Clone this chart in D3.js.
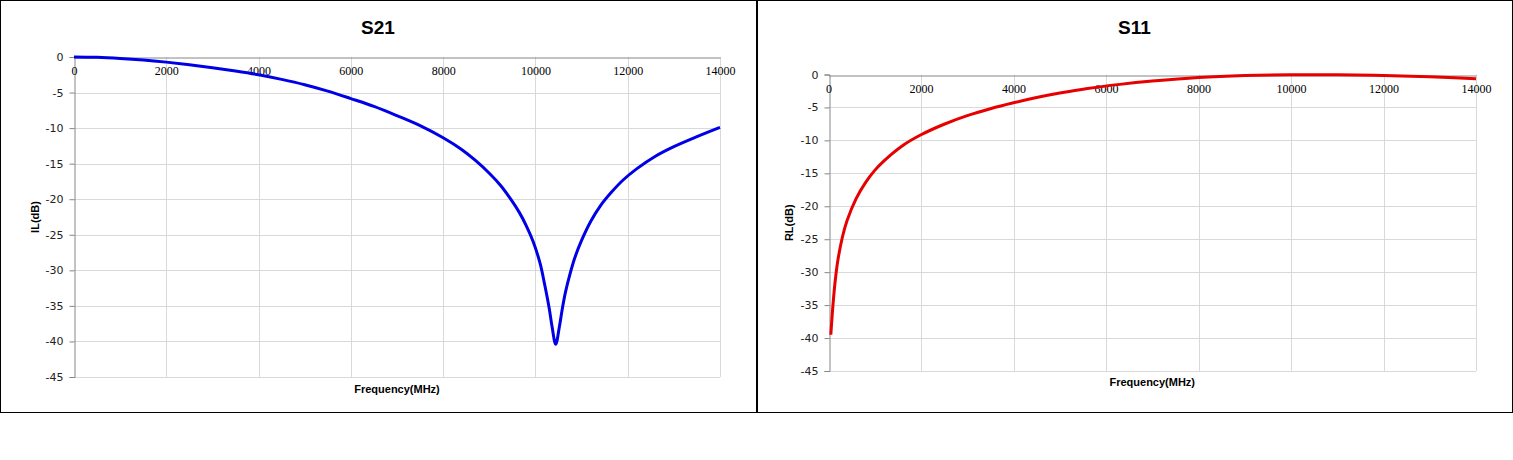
<!DOCTYPE html>
<html>
<head>
<meta charset="utf-8">
<script src="https://cdn.jsdelivr.net/npm/d3@7"></script>
<style>
  body { margin: 0; background: #fff; }
</style>
</head>
<body>
<div id="chart"></div>
<script>
// data (frequency in MHz, level in dB)
const s21Freq = [0, 500, 1000, 1500, 2000, 2500, 3000, 3500, 4000, 4500, 5000, 5500, 6000, 6500, 7000, 7500,
    8000, 8400, 8700, 9000, 9250, 9450, 9650, 9800, 9950, 10100, 10200, 10300, 10360, 10440, 10520, 10580,
    10650, 10750, 10850, 11000, 11200, 11400, 11650, 11900, 12200, 12600, 13000, 13500, 14000];
const s21Loss = [0, -0.05, -0.2, -0.42, -0.72, -1.08, -1.5, -1.97, -2.5, -3.15, -3.9, -4.8, -5.85, -6.95, -8.25, -9.65,
    -11.35, -13.0, -14.55, -16.35, -18.1, -19.85, -21.85, -23.7, -25.95, -29.0, -32.0, -35.4, -37.9, -40.4, -37.9, -35.5,
    -33.1, -30.5, -28.3, -25.8, -23.1, -21.0, -19.0, -17.3, -15.7, -13.95, -12.6, -11.2, -9.9];

const s11Freq = [50, 100, 150, 200, 300, 400, 600, 800, 1000, 1200, 1600, 2000, 2500, 3000, 3500, 4000,
    4500, 5000, 5600, 6300, 7000, 8000, 9000, 10000, 11000, 12000, 13000, 14000];
const s11Loss = [-39.5, -34.7, -31.0, -28.3, -24.7, -22.2, -18.8, -16.4, -14.55, -13.1, -10.8, -9.15, -7.55, -6.25,
    -5.2, -4.3, -3.5, -2.82, -2.12, -1.5, -1.0, -0.45, -0.15, -0.03, -0.05, -0.15, -0.35, -0.65];

const xTicks = [0, 2000, 4000, 6000, 8000, 10000, 12000, 14000];
const yTicks = [0, -5, -10, -15, -20, -25, -30, -35, -40, -45];

const W = 1513, H = 460;

const svg = d3.select("#chart")
    .append("svg")
    .attr("width", W)
    .attr("height", H);

function drawPanel(p) {
    const g = svg.append("g");

    // frame round the chart
    g.append("rect")
        .attr("x", p.box[0] + 0.5).attr("y", 0.5)
        .attr("width", p.box[1] - p.box[0]).attr("height", 412)
        .attr("fill", "#fff").attr("stroke", "#000").attr("stroke-width", 1);

    const x = d3.scaleLinear().domain([0, 14000]).range([p.left, p.right]);
    const y = d3.scaleLinear().domain([-45, 0]).range([p.bottom, p.top]);

    // grid
    g.append("g")
        .selectAll("line")
        .data(xTicks.slice(1))
        .join("line")
        .attr("x1", d => Math.round(x(d)) + 0.5).attr("x2", d => Math.round(x(d)) + 0.5)
        .attr("y1", p.top).attr("y2", p.bottom)
        .attr("stroke", "#d9d9d9");
    g.append("g")
        .selectAll("line")
        .data(yTicks.slice(1))
        .join("line")
        .attr("x1", p.left).attr("x2", p.right)
        .attr("y1", d => Math.round(y(d)) + 0.5).attr("y2", d => Math.round(y(d)) + 0.5)
        .attr("stroke", "#d9d9d9");

    // y axis, ticks pointing out
    const yAxis = g.append("g")
        .attr("transform", `translate(${Math.round(p.left) + 0.5},0)`)
        .call(d3.axisLeft(y).tickValues(yTicks).tickFormat(d => String(d)).tickSize(5).tickPadding(6));
    yAxis.select(".domain").attr("stroke", "#868686");
    yAxis.selectAll(".tick line").attr("stroke", "#868686");
    yAxis.selectAll(".tick text")
        .attr("font-family", "DejaVu Sans").attr("font-size", 11).attr("fill", "#222");

    // x axis drawn at 0 dB, labels hang under it
    const xAxis = g.append("g")
        .attr("transform", `translate(0,${Math.round(y(0)) + 0.5})`)
        .call(d3.axisBottom(x).tickValues(xTicks).tickFormat(d => String(d))
            .tickSize(0).tickPadding(9).tickSizeOuter(0));
    xAxis.select(".domain").attr("stroke", "#868686");
    xAxis.selectAll(".tick text")
        .attr("font-family", "Liberation Serif").attr("font-size", 12).attr("fill", "#000");

    // curve
    const line = d3.line()
        .x(d => x(d[0]))
        .y(d => y(d[1]))
        .curve(d3.curveCatmullRom.alpha(0.5));
    g.append("path")
        .datum(p.freq.map((f, i) => [f, p.loss[i]]))
        .attr("d", line)
        .attr("fill", "none")
        .attr("stroke", p.color)
        .attr("stroke-width", 3)
        .attr("stroke-linejoin", "round");

    // titles
    g.append("text")
        .attr("x", (p.box[0] + p.box[1]) / 2).attr("y", 34)
        .attr("text-anchor", "middle")
        .attr("font-family", "Liberation Sans").attr("font-weight", "bold").attr("font-size", 19)
        .text(p.title);
    g.append("text")
        .attr("x", (p.left + p.right) / 2).attr("y", p.xTitleY)
        .attr("text-anchor", "middle")
        .attr("font-family", "Liberation Sans").attr("font-weight", "bold").attr("font-size", 11)
        .text("Frequency(MHz)");
    g.append("text")
        .attr("transform", `translate(${p.yTitleX},${(p.top + p.bottom) / 2}) rotate(-90)`)
        .attr("text-anchor", "middle")
        .attr("font-family", "Liberation Sans").attr("font-weight", "bold").attr("font-size", 11)
        .text(p.yTitle);
}

drawPanel({
    box: [0, 756], left: 74, right: 720, top: 57, bottom: 377,
    freq: s21Freq, loss: s21Loss, color: "#0000e6",
    title: "S21", yTitle: "IL(dB)", yTitleX: 39, xTitleY: 393
});
drawPanel({
    box: [757, 1512], left: 828.5, right: 1476, top: 74.5, bottom: 371,
    freq: s11Freq, loss: s11Loss, color: "#e60000",
    title: "S11", yTitle: "RL(dB)", yTitleX: 793, xTitleY: 386
});
</script>
</body>
</html>
